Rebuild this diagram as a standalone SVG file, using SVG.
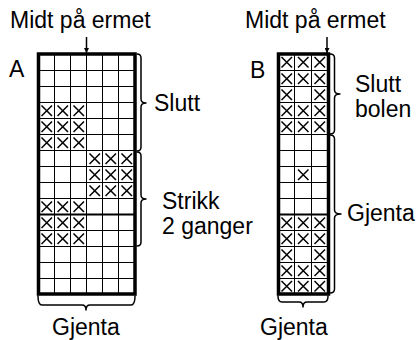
<svg xmlns="http://www.w3.org/2000/svg" xmlns:xlink="http://www.w3.org/1999/xlink" width="417" height="340" viewBox="0 0 417 340">
<style>
text{font-family:"Liberation Sans",Arial,Helvetica,sans-serif;font-size:23px;fill:#000}
.thin{stroke:#000;stroke-width:1;fill:none}
.border{stroke:#000;stroke-width:3.5;fill:none}
.mid{stroke:#000;stroke-width:2;fill:none}
.brace{stroke:#000;stroke-width:1.5;fill:none;stroke-linecap:round;stroke-linejoin:round}
.arrow{stroke:#000;stroke-width:1.5;fill:none}
.xm{stroke:#000;stroke-width:1.5;fill:none}
</style>
<defs>
<path id="x" class="xm" d="M3,3 L13.5,13.5 M13.5,3 L3,13.5"/>
<marker id="ah" viewBox="0 0 8 8" refX="8" refY="4" markerWidth="5" markerHeight="5" orient="auto" markerUnits="userSpaceOnUse">
<path d="M0,0 L8,4 L0,8 Z" fill="#000"/>
</marker>
</defs>

<g id="chartA">
<text x="10" y="28">Midt på ermet</text>
<text x="9" y="77">A</text>
<path class="thin" d="M54.5,54V294 M70.5,54V294 M86.5,54V294 M102.5,54V294 M118.5,54V294
M38.5,70.5H135 M38.5,86.5H135 M38.5,102.5H135 M38.5,118.5H135 M38.5,134.5H135 M38.5,150.5H135 M38.5,166.5H135 M38.5,182.5H135 M38.5,198.5H135 M38.5,230.5H135 M38.5,246.5H135 M38.5,262.5H135 M38.5,278.5H135"/>
<line class="mid" x1="38.5" y1="214.5" x2="135" y2="214.5"/>
<g>
<use xlink:href="#x" x="38.5" y="102.5"/><use xlink:href="#x" x="54.5" y="102.5"/><use xlink:href="#x" x="70.5" y="102.5"/>
<use xlink:href="#x" x="38.5" y="118.5"/><use xlink:href="#x" x="54.5" y="118.5"/><use xlink:href="#x" x="70.5" y="118.5"/>
<use xlink:href="#x" x="38.5" y="134.5"/><use xlink:href="#x" x="54.5" y="134.5"/><use xlink:href="#x" x="70.5" y="134.5"/>
<use xlink:href="#x" x="86.5" y="150.5"/><use xlink:href="#x" x="102.5" y="150.5"/><use xlink:href="#x" x="118.5" y="150.5"/>
<use xlink:href="#x" x="86.5" y="166.5"/><use xlink:href="#x" x="102.5" y="166.5"/><use xlink:href="#x" x="118.5" y="166.5"/>
<use xlink:href="#x" x="86.5" y="182.5"/><use xlink:href="#x" x="102.5" y="182.5"/><use xlink:href="#x" x="118.5" y="182.5"/>
<use xlink:href="#x" x="38.5" y="198.5"/><use xlink:href="#x" x="54.5" y="198.5"/><use xlink:href="#x" x="70.5" y="198.5"/>
<use xlink:href="#x" x="38.5" y="214.5"/><use xlink:href="#x" x="54.5" y="214.5"/><use xlink:href="#x" x="70.5" y="214.5"/>
<use xlink:href="#x" x="38.5" y="230.5"/><use xlink:href="#x" x="54.5" y="230.5"/><use xlink:href="#x" x="70.5" y="230.5"/>
</g>
<rect class="border" x="38.5" y="54" width="96.5" height="240"/>
<text x="154" y="111">Slutt</text>
<text x="162" y="209">Strikk</text>
<text x="162" y="234">2 ganger</text>
<text x="52" y="335">Gjenta</text>
</g>

<g id="chartB">
<text x="245" y="28">Midt på ermet</text>
<text x="250" y="78">B</text>
<path class="thin" d="M294.5,54V294 M311.5,54V294
M278.5,70.5H328.5 M278.5,86.5H328.5 M278.5,102.5H328.5 M278.5,118.5H328.5 M278.5,134.5H328.5 M278.5,150.5H328.5 M278.5,166.5H328.5 M278.5,182.5H328.5 M278.5,198.5H328.5 M278.5,230.5H328.5 M278.5,246.5H328.5 M278.5,262.5H328.5 M278.5,278.5H328.5"/>
<line class="mid" x1="278.5" y1="214.5" x2="328.5" y2="214.5"/>
<g>
<use xlink:href="#x" x="278.5" y="54"/><use xlink:href="#x" x="295" y="54"/><use xlink:href="#x" x="311.5" y="54"/>
<use xlink:href="#x" x="278.5" y="70.5"/><use xlink:href="#x" x="295" y="70.5"/><use xlink:href="#x" x="311.5" y="70.5"/>
<use xlink:href="#x" x="278.5" y="86.5"/><use xlink:href="#x" x="311.5" y="86.5"/>
<use xlink:href="#x" x="278.5" y="102.5"/><use xlink:href="#x" x="295" y="102.5"/><use xlink:href="#x" x="311.5" y="102.5"/>
<use xlink:href="#x" x="278.5" y="118.5"/><use xlink:href="#x" x="295" y="118.5"/><use xlink:href="#x" x="311.5" y="118.5"/>
<use xlink:href="#x" x="295" y="166.5"/>
<use xlink:href="#x" x="278.5" y="214.5"/><use xlink:href="#x" x="295" y="214.5"/><use xlink:href="#x" x="311.5" y="214.5"/>
<use xlink:href="#x" x="278.5" y="230.5"/><use xlink:href="#x" x="295" y="230.5"/><use xlink:href="#x" x="311.5" y="230.5"/>
<use xlink:href="#x" x="278.5" y="246.5"/><use xlink:href="#x" x="311.5" y="246.5"/>
<use xlink:href="#x" x="278.5" y="262.5"/><use xlink:href="#x" x="295" y="262.5"/><use xlink:href="#x" x="311.5" y="262.5"/>
<use xlink:href="#x" x="278.5" y="278"/><use xlink:href="#x" x="295" y="278"/><use xlink:href="#x" x="311.5" y="278"/>
</g>
<rect class="border" x="278.5" y="54" width="50" height="240"/>
<text x="355" y="92">Slutt</text>
<text x="355" y="117">bolen</text>
<text x="347" y="221">Gjenta</text>
<text x="260" y="335">Gjenta</text>
</g>

<g id="connectors">
<line class="arrow" x1="86.5" y1="37" x2="86.5" y2="53" marker-end="url(#ah)"/>
<line class="arrow" x1="327" y1="37" x2="327" y2="53" marker-end="url(#ah)"/>
<path class="brace" d="M137,54 Q141,54 141,58 L141,99 Q141,103 146,103 Q141,103 141,107 L141,147 Q141,151 137,151"/>
<path class="brace" d="M137,152 Q141,152 141,156 L141,195 Q141,199 146,199 Q141,199 141,203 L141,242 Q141,246 137,246"/>
<path class="brace" d="M38,296 Q38,305 42,305 L82,305 Q86,305 86,310 Q86,305 90,305 L131,305 Q135,305 135,296"/>
<path class="brace" d="M330,54 Q334.5,54 334.5,58 L334.5,90 Q334.5,94 340,94 Q334.5,94 334.5,98 L334.5,130 Q334.5,134 330,134"/>
<path class="brace" d="M330,135 Q334.5,135 334.5,139 L334.5,210 Q334.5,214 341,214 Q334.5,214 334.5,218 L334.5,289 Q334.5,293 330,293"/>
<path class="brace" d="M278,296 Q278,302 282,302 L299,302 Q303,302 303,307 Q303,302 307,302 L324,302 Q328,302 328,296"/>
</g>
</svg>
